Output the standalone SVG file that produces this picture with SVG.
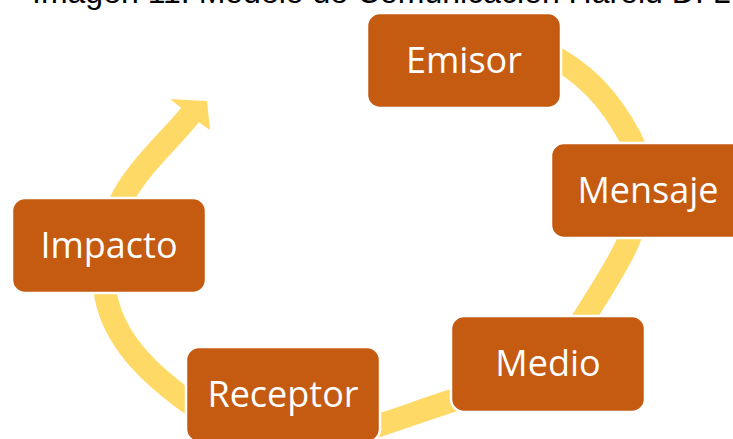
<svg xmlns="http://www.w3.org/2000/svg" width="733" height="439" viewBox="0 0 733 439">
  <style>
    .node rect { fill: #C55A11; stroke: #FFFFFF; stroke-width: 2.5; }
    .node text { fill: #FFFFFF; font-family: "Open Sans", "DejaVu Sans", sans-serif; font-size: 36px; text-anchor: middle; }
    .title { fill: #000000; font-family: "Liberation Sans", Arial, sans-serif; font-size: 32px; }
    .arc { fill: none; stroke: #FFD966; stroke-width: 23; stroke-linecap: butt; }
    .head { fill: #FFD966; }
  </style>
  <rect width="733" height="439" fill="#FFFFFF"/>
  <text class="title" x="32" y="3">Imagen 11. Modelo de Comunicación Harold D. L</text>
  <g id="connectors">
    <path class="arc" d="M 545 52 C 585 72 610 99 631 139 C 644 164 642 210 628 242 C 617 267 601 290 587 313 C 556 365 506 385 448 402 C 426 409 405 417 383 424 C 316 446 240 441 184 399 C 148 372 115 341 106 297 C 99 262 106 226 124 195 C 141.5 164.5 168 142 190.5 114.5"/>
    <polygon class="head" points="180,107 170,99 207,101 210,130 200,123"/>
  </g>
  <g id="node-emisor" class="node">
    <rect x="367" y="13" width="194" height="95" rx="13"/>
    <text x="464" y="73">Emisor</text>
  </g>
  <g id="node-mensaje" class="node">
    <rect x="551" y="143" width="194" height="95" rx="13"/>
    <text x="648" y="203">Mensaje</text>
  </g>
  <g id="node-medio" class="node">
    <rect x="451" y="316" width="194" height="96" rx="13"/>
    <text x="548" y="376">Medio</text>
  </g>
  <g id="node-receptor" class="node">
    <rect x="186" y="347" width="194" height="95" rx="13"/>
    <text x="283" y="407">Receptor</text>
  </g>
  <g id="node-impacto" class="node">
    <rect x="12" y="198" width="194" height="95" rx="13"/>
    <text x="109" y="258">Impacto</text>
  </g>
</svg>
